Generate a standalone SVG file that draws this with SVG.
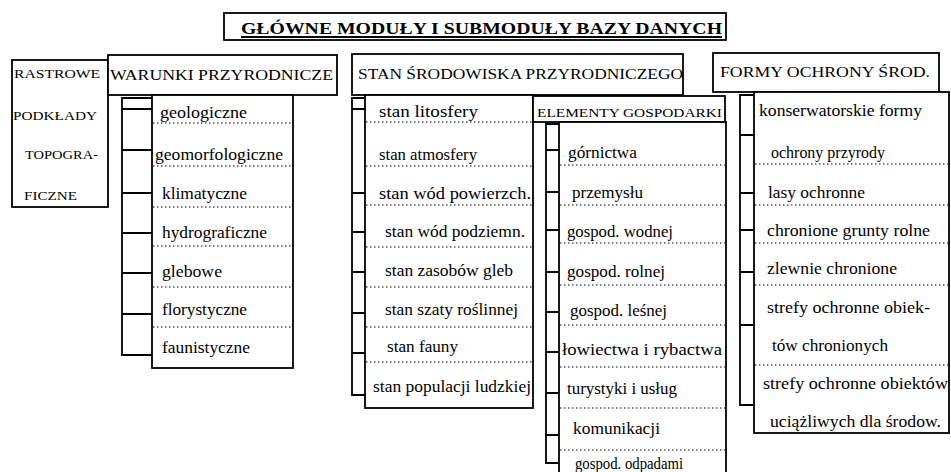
<svg xmlns="http://www.w3.org/2000/svg" width="951" height="472" viewBox="0 0 951 472">
<style>
.bg{fill:#fff}
.box{fill:#fff;stroke:#000;stroke-width:1.8}
.dot{stroke:#000;stroke-width:1;stroke-dasharray:1.5 2.5;fill:none}
.ln{stroke:#000;stroke-width:1.8;fill:none}
text{font-family:"Liberation Serif","Times New Roman",serif;fill:#000}
.t{font-size:16px}
.h{font-size:15px}
.s{font-size:13px}
.title{font-size:17px;font-weight:bold}
</style>
<rect class="bg" x="0" y="0" width="951" height="472"/>

<g id="title">
<rect class="box" x="224" y="13" width="502" height="27"/>
<text class="title" x="241" y="34" textLength="481" lengthAdjust="spacingAndGlyphs">GŁÓWNE MODUŁY I SUBMODUŁY BAZY DANYCH</text>
<line class="ln" x1="241" y1="37" x2="722" y2="37" stroke-width="1.2"/>
</g>

<g id="rastrowe">
<rect class="box" x="12" y="60" width="96" height="147"/>
<text class="s" x="14" y="78" textLength="86" lengthAdjust="spacingAndGlyphs">RASTROWE</text>
<text class="s" x="13" y="120" textLength="84" lengthAdjust="spacingAndGlyphs">PODKŁADY</text>
<text class="s" x="25" y="159" textLength="73" lengthAdjust="spacingAndGlyphs">TOPOGRA-</text>
<text class="s" x="24" y="200" textLength="53" lengthAdjust="spacingAndGlyphs">FICZNE</text>
</g>

<g id="warunki">
<rect class="box" x="108" y="55" width="229" height="40"/>
<text class="h" x="110" y="80" textLength="223" lengthAdjust="spacingAndGlyphs">WARUNKI PRZYRODNICZE</text>
</g>

<g id="warunki-sub">
<rect class="box" x="152" y="95" width="141" height="273"/>
<text class="t" x="160" y="118" textLength="87" lengthAdjust="spacingAndGlyphs">geologiczne</text>
<text class="t" x="155" y="160" textLength="128" lengthAdjust="spacingAndGlyphs">geomorfologiczne</text>
<text class="t" x="162" y="199" textLength="85" lengthAdjust="spacingAndGlyphs">klimatyczne</text>
<text class="t" x="162" y="238" textLength="105" lengthAdjust="spacingAndGlyphs">hydrograficzne</text>
<text class="t" x="162" y="277" textLength="60" lengthAdjust="spacingAndGlyphs">glebowe</text>
<text class="t" x="162" y="315" textLength="85" lengthAdjust="spacingAndGlyphs">florystyczne</text>
<text class="t" x="162" y="353" textLength="88" lengthAdjust="spacingAndGlyphs">faunistyczne</text>
<path class="dot" d="M153 123H292M153 166H292M153 207H292M153 246H292M153 287H292M153 327H292"/>
</g>

<g id="stan">
<rect class="box" x="352" y="54" width="331" height="41"/>
<text class="h" x="358" y="79" textLength="325" lengthAdjust="spacingAndGlyphs">STAN ŚRODOWISKA PRZYRODNICZEGO</text>
</g>

<g id="stan-sub">
<rect class="box" x="365" y="95" width="168" height="313"/>
<text class="t" x="379" y="117" textLength="99" lengthAdjust="spacingAndGlyphs">stan litosfery</text>
<text class="t" x="379" y="160" textLength="98" lengthAdjust="spacingAndGlyphs">stan atmosfery</text>
<text class="t" x="379" y="199" textLength="152" lengthAdjust="spacingAndGlyphs">stan wód powierzch.</text>
<text class="t" x="385" y="237" textLength="140" lengthAdjust="spacingAndGlyphs">stan wód podziemn.</text>
<text class="t" x="385" y="276" textLength="128" lengthAdjust="spacingAndGlyphs">stan zasobów gleb</text>
<text class="t" x="385" y="315" textLength="133" lengthAdjust="spacingAndGlyphs">stan szaty roślinnej</text>
<text class="t" x="387" y="352" textLength="71" lengthAdjust="spacingAndGlyphs">stan fauny</text>
<text class="t" x="373" y="392" textLength="158" lengthAdjust="spacingAndGlyphs">stan populacji ludzkiej</text>
<path class="dot" d="M366 122H532M366 166H532M366 205H532M366 247H532M366 287H532M366 327H532M366 362H532"/>
</g>

<g id="elementy">
<rect class="box" x="533" y="96" width="192" height="26"/>
<text class="s" x="537" y="117" textLength="185" lengthAdjust="spacingAndGlyphs">ELEMENTY GOSPODARKI</text>
</g>

<g id="elementy-sub">
<rect class="box" x="559" y="122" width="167" height="362"/>
<text class="t" x="568" y="158" textLength="69" lengthAdjust="spacingAndGlyphs">górnictwa</text>
<text class="t" x="572" y="198" textLength="71" lengthAdjust="spacingAndGlyphs">przemysłu</text>
<text class="t" x="567" y="237" textLength="106" lengthAdjust="spacingAndGlyphs">gospod. wodnej</text>
<text class="t" x="567" y="277" textLength="98" lengthAdjust="spacingAndGlyphs">gospod. rolnej</text>
<text class="t" x="570" y="316" textLength="97" lengthAdjust="spacingAndGlyphs">gospod. leśnej</text>
<text class="t" x="562" y="355" textLength="160" lengthAdjust="spacingAndGlyphs">łowiectwa i rybactwa</text>
<text class="t" x="567" y="394" textLength="110" lengthAdjust="spacingAndGlyphs">turystyki i usług</text>
<text class="t" x="573" y="434" textLength="87" lengthAdjust="spacingAndGlyphs">komunikacji</text>
<text class="t" x="575" y="469" textLength="108" lengthAdjust="spacingAndGlyphs">gospod. odpadami</text>
<path class="dot" d="M560 165H725M560 205H725M560 243H725M560 285H725M560 325H725M560 367H725M560 408H725M560 450H725"/>
</g>

<g id="formy">
<rect class="box" x="713" y="53" width="226" height="39"/>
<text class="h" x="720" y="77" textLength="210" lengthAdjust="spacingAndGlyphs">FORMY OCHRONY ŚROD.</text>
</g>

<g id="formy-sub">
<rect class="box" x="754" y="92" width="195" height="341"/>
<text class="t" x="759" y="116" textLength="163" lengthAdjust="spacingAndGlyphs">konserwatorskie formy</text>
<text class="t" x="771" y="158" textLength="114" lengthAdjust="spacingAndGlyphs">ochrony przyrody</text>
<text class="t" x="768" y="198" textLength="97" lengthAdjust="spacingAndGlyphs">lasy ochronne</text>
<text class="t" x="767" y="236" textLength="163" lengthAdjust="spacingAndGlyphs">chronione grunty rolne</text>
<text class="t" x="767" y="274" textLength="130" lengthAdjust="spacingAndGlyphs">zlewnie chronione</text>
<text class="t" x="767" y="313" textLength="163" lengthAdjust="spacingAndGlyphs">strefy ochronne obiek-</text>
<text class="t" x="772" y="351" textLength="116" lengthAdjust="spacingAndGlyphs">tów chronionych</text>
<text class="t" x="763" y="389" textLength="185" lengthAdjust="spacingAndGlyphs">strefy ochronne obiektów</text>
<text class="t" x="770" y="427" textLength="171" lengthAdjust="spacingAndGlyphs">uciążliwych dla środow.</text>
<path class="dot" d="M755 164H948M755 205H948M755 243H948M755 285H948M755 365H948"/>
</g>

<g id="connectors">
<path class="ln" d="M152 98H122V355H152M122 109H152M122 150H152M122 193H152M122 233H152M122 273H152M122 314H152"/>
<path class="ln" d="M365 98H352V395H365M352 109H365M352 193H365M352 232H365M352 272H365M352 313H365M352 353H365"/>
<path class="ln" d="M559 124H546V463H559M546 150H559M546 192H559M546 230H559M546 272H559M546 312H559M546 352H559M546 393H559M546 435H559"/>
<path class="ln" d="M754 95H740V405H754M740 135H754M740 193H754M740 230H754M740 272H754M740 325H754"/>
</g>
</svg>
